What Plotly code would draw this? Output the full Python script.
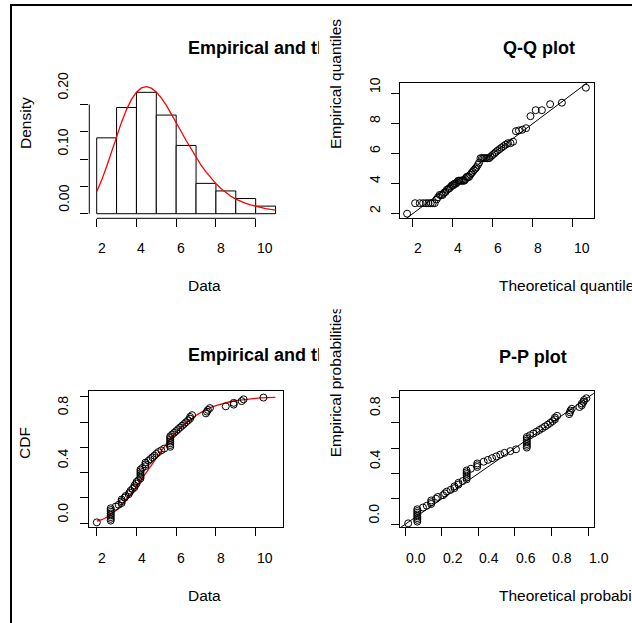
import plotly.graph_objects as go

W, H = 632, 623

# ---------------- data ----------------
data = [2.0, 2.7, 2.7, 2.7, 2.7, 2.7, 2.7, 2.7, 2.7, 2.95,
        3.1, 3.25, 3.25, 3.25, 3.4, 3.45, 3.6, 3.65, 3.7, 3.8, 3.9, 3.9, 4.0, 4.0,
        4.1, 4.2, 4.2, 4.2, 4.2, 4.2, 4.2, 4.3, 4.45, 4.45, 4.45, 4.6, 4.7, 4.8, 4.9, 5.0,
        5.1, 5.25, 5.4, 5.7, 5.7, 5.7, 5.7, 5.7, 5.7, 5.7, 5.8, 5.9, 6.0,
        6.1, 6.2, 6.3, 6.4, 6.5, 6.6, 6.7, 6.7, 6.8,
        7.5, 7.55, 7.6, 7.7, 8.5, 8.9, 8.9, 9.3, 9.4, 10.4]

qq_theoretical = [1.72, 2.12, 2.35, 2.52, 2.67, 2.79, 2.90, 3.00, 3.10, 3.19,
                  3.27, 3.35, 3.43, 3.50, 3.57, 3.64, 3.71, 3.78, 3.84, 3.91,
                  3.97, 4.03, 4.09, 4.16, 4.22, 4.28, 4.34, 4.40, 4.46, 4.52,
                  4.58, 4.64, 4.70, 4.76, 4.82, 4.88, 4.94, 5.00, 5.06, 5.13,
                  5.19, 5.26, 5.32, 5.39, 5.46, 5.53, 5.60, 5.67, 5.75, 5.82,
                  5.90, 5.98, 6.07, 6.15, 6.24, 6.34, 6.44, 6.54, 6.65, 6.76,
                  6.89, 7.02, 7.16, 7.31, 7.48, 7.67, 7.89, 8.15, 8.46, 8.87,
                  9.46, 10.66]

pp_theoretical = [0.016, 0.066, 0.066, 0.066, 0.066, 0.066, 0.066, 0.066, 0.066, 0.097,
                  0.118, 0.142, 0.142, 0.142, 0.168, 0.178, 0.207, 0.217, 0.227, 0.248,
                  0.269, 0.269, 0.291, 0.291, 0.314, 0.336, 0.336, 0.336, 0.336, 0.336,
                  0.336, 0.359, 0.394, 0.394, 0.394, 0.429, 0.452, 0.475, 0.498, 0.520,
                  0.543, 0.575, 0.606, 0.665, 0.665, 0.665, 0.665, 0.665, 0.665, 0.665,
                  0.683, 0.701, 0.718, 0.734, 0.750, 0.765, 0.780, 0.793, 0.806, 0.819,
                  0.819, 0.831, 0.897, 0.901, 0.904, 0.911, 0.953, 0.966, 0.966, 0.976,
                  0.978, 0.991]

curve_x = [2.0, 2.25, 2.5, 2.75, 3.0, 3.25, 3.5, 3.75, 4.0, 4.25, 4.5, 4.75,
           5.0, 5.25, 5.5, 5.75, 6.0, 6.25, 6.5, 6.75, 7.0, 7.25, 7.5, 7.75,
           8.0, 8.25, 8.5, 8.75, 9.0, 9.25, 9.5, 9.75, 10.0, 10.25, 10.5, 10.75, 11.0]
density_curve = [0.0402, 0.0615, 0.0865, 0.1138, 0.1415, 0.1676, 0.1906, 0.2092, 0.2225,
                 0.2303, 0.2326, 0.2299, 0.2228, 0.2121, 0.1987, 0.1835, 0.1672, 0.1506,
                 0.1340, 0.1181, 0.1031, 0.0891, 0.0765, 0.0651, 0.0550, 0.0462, 0.0386,
                 0.0320, 0.0268, 0.0226, 0.0190, 0.0160, 0.0134, 0.0112, 0.0093, 0.0078,
                 0.0066]
cdf_curve = [0.016, 0.028, 0.047, 0.072, 0.104, 0.142, 0.187, 0.237, 0.291, 0.348,
             0.406, 0.464, 0.520, 0.575, 0.626, 0.674, 0.718, 0.758, 0.793, 0.825,
             0.852, 0.876, 0.897, 0.915, 0.930, 0.942, 0.953, 0.962, 0.969, 0.975,
             0.980, 0.984, 0.987, 0.990, 0.992, 0.994, 0.995]

breaks = [2, 3, 4, 5, 6, 7, 8, 9, 10, 11]
x_ticks_data = [2, 4, 6, 8, 10]
dens_ticks = [0, 0.05, 0.10, 0.15, 0.20]
dens_labels = ["0.00", "0.10", "0.20"]
prob_ticks = [0, 0.2, 0.4, 0.6, 0.8, 1.0]
prob_labels = ["0.0", "0.4", "0.8"]
pp_x_labels = ["0.0", "0.2", "0.4", "0.6", "0.8", "1.0"]

# ---------------- derived ----------------
n = len(data)
emp_prob = [(i - 0.5) / n for i in range(1, n + 1)]
bins = list(zip(breaks[:-1], breaks[1:]))
counts = [sum(1 for v in data if (a < v <= b) or (a == breaks[0] and v == a)) for a, b in bins]
hist_density = [c / (n * (b - a)) for c, (a, b) in zip(counts, bins)]
mids = [(a + b) / 2 for a, b in bins]

FONT = "Liberation Sans, Arial, Helvetica, sans-serif"


def px(x):
    return x / W


def py(y):
    return 1 - y / H


fig = go.Figure()

# panel 1: histogram + density
fig.add_trace(go.Bar(x=mids, y=hist_density, width=1, marker=dict(color="white", line=dict(color="black", width=1)),
                     xaxis="x", yaxis="y", showlegend=False))
fig.add_trace(go.Scatter(x=curve_x, y=density_curve, mode="lines", line=dict(color="red", width=1.3),
                         xaxis="x", yaxis="y", showlegend=False))
# panel 2: Q-Q
fig.add_trace(go.Scatter(x=qq_theoretical, y=data, mode="markers",
                         marker=dict(symbol="circle-open", size=7, color="black", line=dict(width=1)),
                         xaxis="x2", yaxis="y2", showlegend=False))
# panel 3: CDF
fig.add_trace(go.Scatter(x=curve_x, y=cdf_curve, mode="lines", line=dict(color="red", width=1.3),
                         xaxis="x3", yaxis="y3", showlegend=False))
fig.add_trace(go.Scatter(x=data, y=emp_prob, mode="markers",
                         marker=dict(symbol="circle-open", size=7, color="black", line=dict(width=1)),
                         xaxis="x3", yaxis="y3", showlegend=False))
# panel 4: P-P
fig.add_trace(go.Scatter(x=pp_theoretical, y=emp_prob, mode="markers",
                         marker=dict(symbol="circle-open", size=7, color="black", line=dict(width=1)),
                         xaxis="x4", yaxis="y4", showlegend=False))

# plot regions (pixels)
left_col = (89.3, 282.7)
right_col = (400.3, 593.7)
top_row = (83.0, 218.3)
bot_row = (391.0, 527.3)

rng = {
    "x": [1.628, 11.36], "y": [-0.0084, 0.2393],
    "x2": [1.38, 11.05], "y2": [1.693, 10.713],
    "x3": [1.62, 11.37], "y3": [-0.032, 1.045],
    "x4": [-0.027, 1.031], "y4": [-0.024, 1.05],
}

common = dict(showgrid=False, zeroline=False, ticks="outside", ticklen=8, tickwidth=1,
              tickcolor="black", showticklabels=False, fixedrange=True)
boxed = dict(showline=True, mirror=True, linecolor="black", linewidth=1)

fig.update_layout(
    xaxis=dict(domain=[px(left_col[0]), px(left_col[1])], range=rng["x"], tickvals=x_ticks_data,
               anchor="y", showline=False, **common),
    yaxis=dict(domain=[py(top_row[1]), py(top_row[0])], range=rng["y"], tickvals=dens_ticks,
               anchor="x", showline=False, **common),
    xaxis2=dict(domain=[px(right_col[0]), px(right_col[1])], range=rng["x2"], tickvals=x_ticks_data,
                anchor="y2", **boxed, **common),
    yaxis2=dict(domain=[py(top_row[1]), py(top_row[0])], range=rng["y2"], tickvals=x_ticks_data,
                anchor="x2", **boxed, **common),
    xaxis3=dict(domain=[px(left_col[0]), px(left_col[1])], range=rng["x3"], tickvals=x_ticks_data,
                anchor="y3", **boxed, **common),
    yaxis3=dict(domain=[py(bot_row[1]), py(bot_row[0])], range=rng["y3"], tickvals=prob_ticks,
                anchor="x3", **boxed, **common),
    xaxis4=dict(domain=[px(right_col[0]), px(right_col[1])], range=rng["x4"], tickvals=prob_ticks,
                anchor="y4", **boxed, **common),
    yaxis4=dict(domain=[py(bot_row[1]), py(bot_row[0])], range=rng["y4"], tickvals=prob_ticks,
                anchor="x4", **boxed, **common),
)

shapes = []
# histogram axis lines (from first to last tick only)
shapes.append(dict(type="line", xref="x", yref="paper", x0=x_ticks_data[0], x1=x_ticks_data[-1],
                   y0=py(top_row[1]), y1=py(top_row[1]), line=dict(color="black", width=1)))
shapes.append(dict(type="line", xref="paper", yref="y", x0=px(left_col[0]), x1=px(left_col[0]),
                   y0=dens_ticks[0], y1=dens_ticks[-1], line=dict(color="black", width=1)))
# identity lines for Q-Q and P-P
lo2, hi2 = min(rng["x2"][0], rng["y2"][0]), max(rng["x2"][1], rng["y2"][1])
shapes.append(dict(type="line", xref="x2", yref="y2", x0=lo2, y0=lo2, x1=hi2, y1=hi2,
                   line=dict(color="black", width=1)))
lo4, hi4 = min(rng["x4"][0], rng["y4"][0]), max(rng["x4"][1], rng["y4"][1])
shapes.append(dict(type="line", xref="x4", yref="y4", x0=lo4, y0=lo4, x1=hi4, y1=hi4,
                   line=dict(color="black", width=1)))
# outer frame (left and top edges)
shapes.append(dict(type="line", xref="paper", yref="paper", x0=px(11), x1=px(11), y0=py(4), y1=py(H + 5),
                   line=dict(color="black", width=2)))
shapes.append(dict(type="line", xref="paper", yref="paper", x0=px(10), x1=px(W + 5), y0=py(5), y1=py(5),
                   line=dict(color="black", width=2)))
fig.update_layout(shapes=shapes)

ann = []


def text(t, x, y, xref="paper", yref="paper", xanchor="left", yanchor="middle", size=15.5,
         bold=False, angle=0, width=None, yshift=0, xshift=0):
    d = dict(text=("<b>%s</b>" % t) if bold else t, x=x, y=y, xref=xref, yref=yref,
             xanchor=xanchor, yanchor=yanchor, showarrow=False, textangle=angle,
             yshift=yshift, xshift=xshift, align="left", borderpad=0,
             font=dict(family=FONT, size=size, color="black"))
    if width is not None:
        d["width"] = width
    ann.append(d)


TICK = 14
TITLE = 18
# ---- panel 1
text("Empirical and theoretical dens.", px(186.7), py(47.7), size=TITLE, bold=True, width=131)
text("Density", px(25), py(150), xanchor="center", yanchor="bottom", angle=-90)
text("Data", px(187), py(285))
for lab, v, sh in zip(dens_labels, [0, 0.10, 0.20], [0.7, 2.3, 3.8]):
    text(lab, px(63.3), v, yref="y", xanchor="center", yanchor="bottom", angle=-90, size=TICK, yshift=sh)
for v in x_ticks_data:
    text(str(v), v, py(248.3), xref="x", size=TICK)
# ---- panel 2
text("Q-Q plot", px(501.7), py(48.3), size=TITLE, bold=True)
text("Empirical quantiles", px(335), py(150), xanchor="center", yanchor="bottom", angle=-90)
text("Theoretical quantiles", px(497.7), py(285))
for v in x_ticks_data:
    text(str(v), px(374.3), v, yref="y2", xanchor="center", yanchor="bottom", angle=-90, size=TICK)
    text(str(v), v, py(248.3), xref="x2", size=TICK)
# ---- panel 3
text("Empirical and theoretical CDFs", px(186.7), py(355), size=TITLE, bold=True, width=131)
text("CDF", px(25), py(460), xanchor="center", yanchor="bottom", angle=-90)
text("Data", px(187), py(595))
for lab, v, sh in zip(prob_labels, [0, 0.4, 0.8], [0, 3.7, 6]):
    text(lab, px(63.3), v, yref="y3", xanchor="center", yanchor="bottom", angle=-90, size=TICK, yshift=sh)
for v in x_ticks_data:
    text(str(v), v, py(558.3), xref="x3", size=TICK)
# ---- panel 4
text("P-P plot", px(498), py(356.7), size=TITLE, bold=True)
text("Empirical probabilities", px(335), py(458.3), xanchor="center", yanchor="bottom", angle=-90,
     width=148)
text("Theoretical probabilities", px(497.7), py(595))
for lab, v, sh in zip(prob_labels, [0, 0.4, 0.8], [0, 3.7, 6]):
    text(lab, px(374.3), v, yref="y4", xanchor="center", yanchor="bottom", angle=-90, size=TICK, yshift=sh)
for lab, v in zip(pp_x_labels, prob_ticks):
    text(lab, v, py(558.3), xref="x4", size=TICK)

fig.update_layout(annotations=ann, width=W, height=H, margin=dict(l=0, r=0, t=0, b=0),
                  plot_bgcolor="white", paper_bgcolor="white", showlegend=False,
                  font=dict(family=FONT, color="black"))
fig.write_html("out.html", config=dict(displayModeBar=False))
